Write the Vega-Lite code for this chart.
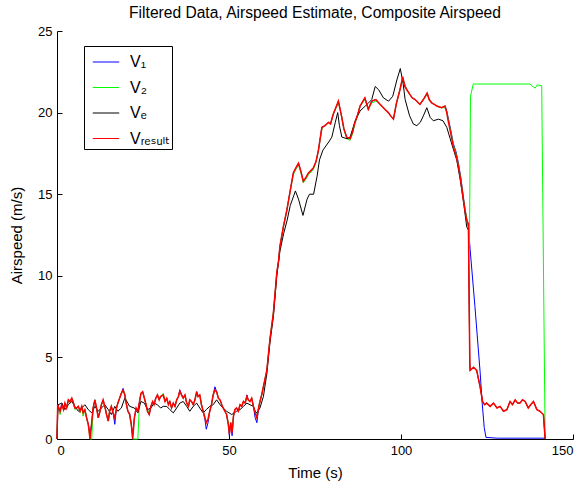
{
"$schema": "https://vega.github.io/schema/vega-lite/v6.json",
"width": 516, "height": 408,
"autosize": {"type": "none"},
"padding": {"left": 57, "top": 31, "right": 13, "bottom": 46},
"background": "white",
"title": {"text": "Filtered Data, Airspeed Estimate, Composite Airspeed", "fontSize": 15.6, "fontWeight": "normal", "font": "Liberation Sans", "anchor": "middle", "frame": "group", "offset": 3, "color": "black"},
"config": {
  "view": {"stroke": null},
  "font": "Liberation Sans",
  "axis": {"grid": false, "domainColor": "black", "tickColor": "black", "labelColor": "black", "titleColor": "black", "labelFontSize": 13, "titleFontSize": 15, "titleFontWeight": "normal", "tickSize": -5, "labelFont": "Liberation Sans", "titleFont": "Liberation Sans"}
},
"datasets": {
"v1": [{"t":0,"v":0},{"t":0.2,"v":2.1},{"t":0.9,"v":1.7},{"t":1.4,"v":2.2},{"t":1.9,"v":1.8},{"t":2.3,"v":2.2},{"t":2.8,"v":1.9},{"t":3.3,"v":2.4},{"t":3.8,"v":2.3},{"t":4.3,"v":2.5},{"t":4.8,"v":2.2},{"t":5.2,"v":1.9},{"t":5.7,"v":1.9},{"t":6.2,"v":2.0},{"t":6.7,"v":1.7},{"t":7.2,"v":2.0},{"t":7.6,"v":1.6},{"t":8.1,"v":1.8},{"t":8.6,"v":1.3},{"t":9.1,"v":0.9},{"t":9.6,"v":0.3},{"t":10.1,"v":1.0},{"t":10.5,"v":1.9},{"t":11.0,"v":2.4},{"t":11.5,"v":1.9},{"t":12.0,"v":1.3},{"t":12.5,"v":1.7},{"t":12.9,"v":2.1},{"t":13.4,"v":2.4},{"t":13.9,"v":2.0},{"t":14.4,"v":1.5},{"t":14.9,"v":1.1},{"t":15.3,"v":1.7},{"t":15.8,"v":2.0},{"t":16.3,"v":1.6},{"t":16.8,"v":0.9},{"t":17.3,"v":1.9},{"t":17.7,"v":2.2},{"t":18.2,"v":2.5},{"t":18.7,"v":2.8},{"t":19.2,"v":3.1},{"t":19.7,"v":2.7},{"t":20.1,"v":2.2},{"t":20.6,"v":1.7},{"t":21.1,"v":1.6},{"t":21.6,"v":0.9},{"t":22.0,"v":0.2},{"t":22.5,"v":1.3},{"t":23.0,"v":1.9},{"t":23.5,"v":1.7},{"t":24.0,"v":2.3},{"t":24.4,"v":2.8},{"t":24.9,"v":2.9},{"t":25.4,"v":2.5},{"t":25.9,"v":2.1},{"t":26.3,"v":1.7},{"t":26.8,"v":1.5},{"t":27.3,"v":2.0},{"t":27.8,"v":2.3},{"t":28.2,"v":2.1},{"t":28.7,"v":2.5},{"t":29.2,"v":2.7},{"t":29.7,"v":2.4},{"t":30.1,"v":2.6},{"t":30.9,"v":2.7},{"t":31.4,"v":2.3},{"t":31.9,"v":2.5},{"t":32.4,"v":2.1},{"t":32.8,"v":2.3},{"t":33.3,"v":1.9},{"t":33.8,"v":2.2},{"t":34.3,"v":2.0},{"t":34.8,"v":2.4},{"t":35.3,"v":2.6},{"t":35.7,"v":3.0},{"t":36.2,"v":2.7},{"t":36.7,"v":2.5},{"t":37.2,"v":2.7},{"t":37.7,"v":2.2},{"t":38.2,"v":2.0},{"t":38.6,"v":2.4},{"t":39.1,"v":2.3},{"t":39.6,"v":2.1},{"t":40.1,"v":2.4},{"t":40.6,"v":2.9},{"t":41.0,"v":2.6},{"t":41.5,"v":2.7},{"t":42.0,"v":2.1},{"t":42.5,"v":1.7},{"t":43.0,"v":1.2},{"t":43.4,"v":0.6},{"t":43.9,"v":1.0},{"t":44.4,"v":1.7},{"t":44.9,"v":2.1},{"t":45.4,"v":2.7},{"t":45.9,"v":3.2},{"t":46.4,"v":2.9},{"t":46.9,"v":2.5},{"t":47.4,"v":2.4},{"t":47.9,"v":2.1},{"t":48.3,"v":1.9},{"t":48.8,"v":1.7},{"t":49.3,"v":1.5},{"t":49.8,"v":0.9},{"t":50.1,"v":0.2},{"t":50.5,"v":1.0},{"t":50.9,"v":0.2},{"t":51.3,"v":1.4},{"t":51.7,"v":1.8},{"t":52.2,"v":1.9},{"t":52.7,"v":1.7},{"t":53.2,"v":2.1},{"t":53.7,"v":2.0},{"t":54.2,"v":2.3},{"t":54.7,"v":2.2},{"t":55.2,"v":2.7},{"t":55.6,"v":2.4},{"t":56.1,"v":2.3},{"t":56.6,"v":2.5},{"t":57.1,"v":2.0},{"t":57.6,"v":1.3},{"t":58.1,"v":1.0},{"t":58.6,"v":1.9},{"t":59.0,"v":2.3},{"t":59.5,"v":2.7},{"t":60.0,"v":3.2},{"t":61.0,"v":4.2},{"t":61.9,"v":6.1},{"t":62.9,"v":7.7},{"t":63.9,"v":10.2},{"t":64.4,"v":10.9},{"t":64.8,"v":11.8},{"t":65.3,"v":12.4},{"t":65.8,"v":13.0},{"t":66.8,"v":14.0},{"t":67.7,"v":15.1},{"t":68.7,"v":16.3},{"t":69.4,"v":16.6},{"t":70.2,"v":16.9},{"t":70.9,"v":16.4},{"t":71.6,"v":15.8},{"t":72.3,"v":16.0},{"t":73.1,"v":16.3},{"t":74.5,"v":16.6},{"t":75.3,"v":17.0},{"t":76.0,"v":17.7},{"t":77.0,"v":19.1},{"t":77.9,"v":19.2},{"t":78.9,"v":19.4},{"t":79.5,"v":19.3},{"t":80.3,"v":19.9},{"t":81.8,"v":20.7},{"t":82.7,"v":19.8},{"t":83.4,"v":19.0},{"t":84.2,"v":18.5},{"t":85.2,"v":18.4},{"t":85.9,"v":18.8},{"t":86.6,"v":19.4},{"t":87.3,"v":19.8},{"t":88.1,"v":20.4},{"t":89.5,"v":20.9},{"t":90.5,"v":20.2},{"t":91.5,"v":20.7},{"t":92.7,"v":20.8},{"t":93.5,"v":20.6},{"t":94.4,"v":20.4},{"t":95.3,"v":20.2},{"t":96.3,"v":20.0},{"t":97.0,"v":19.8},{"t":97.8,"v":19.6},{"t":98.7,"v":20.6},{"t":99.7,"v":21.4},{"t":100.5,"v":22.1},{"t":101.1,"v":21.7},{"t":101.7,"v":21.4},{"t":102.6,"v":21.1},{"t":103.3,"v":20.9},{"t":104.1,"v":20.8},{"t":105.5,"v":20.5},{"t":106.5,"v":20.8},{"t":107.6,"v":21.2},{"t":108.2,"v":20.8},{"t":108.9,"v":20.6},{"t":109.7,"v":20.5},{"t":110.4,"v":20.4},{"t":111.8,"v":20.3},{"t":112.8,"v":20.4},{"t":113.3,"v":20.1},{"t":113.8,"v":19.6},{"t":114.5,"v":18.9},{"t":115.2,"v":18.1},{"t":116.0,"v":17.6},{"t":116.7,"v":16.9},{"t":117.4,"v":16.0},{"t":118.1,"v":14.9},{"t":118.6,"v":14.1},{"t":119.1,"v":13.5},{"t":119.6,"v":13.0},{"t":120.1,"v":11.6},{"t":121.5,"v":8.1},{"t":123.0,"v":4.1},{"t":123.6,"v":2.2},{"t":124.2,"v":0.7},{"t":124.7,"v":0.1},{"t":128.0,"v":0.05},{"t":141.9,"v":0.05},{"t":142.0,"v":0}],
"v2": [{"t":0,"v":0},{"t":0.2,"v":2.0},{"t":0.9,"v":1.5},{"t":1.4,"v":2.1},{"t":1.9,"v":1.8},{"t":2.3,"v":2.1},{"t":2.8,"v":1.9},{"t":3.3,"v":2.4},{"t":3.8,"v":2.2},{"t":4.3,"v":2.5},{"t":4.8,"v":2.2},{"t":5.2,"v":1.8},{"t":5.7,"v":1.9},{"t":6.2,"v":2.0},{"t":6.7,"v":1.6},{"t":7.2,"v":2.0},{"t":7.6,"v":1.4},{"t":8.1,"v":1.8},{"t":8.6,"v":1.3},{"t":9.1,"v":0.8},{"t":9.6,"v":0},{"t":10.1,"v":0},{"t":10.5,"v":1.9},{"t":11.0,"v":2.4},{"t":11.5,"v":1.9},{"t":12.0,"v":1.3},{"t":12.5,"v":1.7},{"t":12.9,"v":2.1},{"t":13.4,"v":2.3},{"t":13.9,"v":2.0},{"t":14.4,"v":1.5},{"t":14.9,"v":1.2},{"t":15.3,"v":1.7},{"t":15.8,"v":2.0},{"t":16.3,"v":1.6},{"t":16.8,"v":1.3},{"t":17.3,"v":1.9},{"t":17.7,"v":2.2},{"t":18.2,"v":2.5},{"t":18.7,"v":2.8},{"t":19.2,"v":3.0},{"t":19.7,"v":2.8},{"t":20.1,"v":2.3},{"t":20.6,"v":1.7},{"t":21.1,"v":1.5},{"t":21.6,"v":0.8},{"t":22.0,"v":0},{"t":23.5,"v":0},{"t":24.0,"v":2.3},{"t":24.4,"v":2.8},{"t":24.9,"v":2.9},{"t":25.4,"v":2.5},{"t":25.9,"v":2.1},{"t":26.3,"v":1.8},{"t":26.8,"v":1.6},{"t":27.3,"v":2.0},{"t":27.8,"v":2.3},{"t":28.2,"v":2.1},{"t":28.7,"v":2.5},{"t":29.2,"v":2.7},{"t":29.7,"v":2.4},{"t":30.1,"v":2.6},{"t":30.9,"v":2.8},{"t":31.4,"v":2.3},{"t":31.9,"v":2.5},{"t":32.4,"v":2.1},{"t":32.8,"v":2.3},{"t":33.3,"v":1.9},{"t":33.8,"v":2.2},{"t":34.3,"v":2.0},{"t":34.8,"v":2.4},{"t":35.3,"v":2.6},{"t":35.7,"v":2.9},{"t":36.2,"v":2.7},{"t":36.7,"v":2.5},{"t":37.2,"v":2.7},{"t":37.7,"v":2.2},{"t":38.2,"v":2.0},{"t":38.6,"v":2.4},{"t":39.1,"v":2.3},{"t":39.6,"v":2.1},{"t":40.1,"v":2.4},{"t":40.6,"v":2.8},{"t":41.0,"v":2.6},{"t":41.5,"v":2.7},{"t":42.0,"v":2.1},{"t":42.5,"v":1.7},{"t":43.0,"v":1.3},{"t":43.4,"v":1.0},{"t":43.9,"v":1.2},{"t":44.4,"v":1.7},{"t":44.9,"v":2.1},{"t":45.4,"v":2.7},{"t":45.9,"v":3.0},{"t":46.4,"v":2.9},{"t":46.9,"v":2.5},{"t":47.4,"v":2.4},{"t":47.9,"v":2.1},{"t":48.3,"v":1.9},{"t":48.8,"v":1.7},{"t":49.3,"v":1.5},{"t":49.8,"v":1.0},{"t":50.1,"v":0.4},{"t":50.5,"v":1.0},{"t":50.9,"v":0.5},{"t":51.3,"v":1.4},{"t":51.7,"v":1.8},{"t":52.2,"v":1.9},{"t":52.7,"v":1.7},{"t":53.2,"v":2.1},{"t":53.7,"v":2.0},{"t":54.2,"v":2.3},{"t":54.7,"v":2.2},{"t":55.2,"v":2.6},{"t":55.6,"v":2.4},{"t":56.1,"v":2.3},{"t":56.6,"v":2.5},{"t":57.1,"v":2.0},{"t":57.6,"v":1.7},{"t":58.1,"v":1.4},{"t":58.6,"v":1.9},{"t":59.0,"v":2.3},{"t":59.5,"v":2.7},{"t":60.0,"v":3.2},{"t":61.0,"v":4.2},{"t":61.9,"v":6.1},{"t":62.9,"v":7.8},{"t":63.9,"v":10.2},{"t":64.4,"v":10.9},{"t":64.8,"v":11.8},{"t":65.3,"v":12.4},{"t":65.8,"v":13.0},{"t":66.8,"v":14.0},{"t":67.7,"v":15.1},{"t":68.7,"v":16.2},{"t":69.4,"v":16.5},{"t":70.2,"v":16.8},{"t":70.9,"v":16.3},{"t":71.6,"v":15.7},{"t":72.3,"v":15.9},{"t":73.1,"v":16.2},{"t":74.5,"v":16.5},{"t":75.3,"v":17.0},{"t":76.0,"v":17.7},{"t":77.0,"v":19.0},{"t":77.9,"v":19.2},{"t":78.9,"v":19.4},{"t":79.5,"v":19.3},{"t":80.3,"v":19.9},{"t":81.8,"v":20.6},{"t":82.7,"v":19.8},{"t":83.4,"v":19.0},{"t":84.2,"v":18.4},{"t":85.2,"v":18.3},{"t":85.9,"v":18.7},{"t":86.6,"v":19.3},{"t":87.3,"v":19.8},{"t":88.1,"v":20.4},{"t":89.5,"v":20.8},{"t":90.5,"v":20.2},{"t":91.5,"v":20.6},{"t":92.7,"v":20.7},{"t":93.5,"v":20.6},{"t":94.4,"v":20.4},{"t":95.3,"v":20.2},{"t":96.3,"v":20.0},{"t":97.0,"v":19.8},{"t":97.8,"v":19.6},{"t":98.7,"v":20.6},{"t":99.7,"v":21.4},{"t":100.5,"v":22.1},{"t":101.1,"v":21.7},{"t":101.7,"v":21.4},{"t":102.6,"v":21.1},{"t":103.3,"v":20.9},{"t":104.1,"v":20.8},{"t":105.5,"v":20.5},{"t":106.5,"v":20.8},{"t":107.6,"v":21.1},{"t":108.2,"v":20.8},{"t":108.9,"v":20.6},{"t":109.7,"v":20.5},{"t":110.4,"v":20.4},{"t":111.8,"v":20.3},{"t":112.8,"v":20.3},{"t":113.3,"v":20.0},{"t":113.8,"v":19.5},{"t":114.5,"v":18.8},{"t":115.2,"v":18.0},{"t":116.0,"v":17.5},{"t":116.7,"v":16.8},{"t":117.4,"v":15.9},{"t":118.1,"v":14.8},{"t":118.6,"v":14.1},{"t":119.1,"v":13.5},{"t":119.6,"v":13.1},{"t":119.9,"v":11.8},{"t":120.2,"v":21.0},{"t":121.0,"v":21.75},{"t":137.5,"v":21.75},{"t":138.3,"v":21.6},{"t":139.0,"v":21.5},{"t":139.6,"v":21.7},{"t":140.9,"v":21.65},{"t":141.9,"v":0}],
"ve": [{"t":0,"v":0},{"t":0.3,"v":2.1},{"t":1.4,"v":2.2},{"t":2.3,"v":1.8},{"t":3.3,"v":2.1},{"t":4.3,"v":2.3},{"t":5.2,"v":2.0},{"t":6.2,"v":1.7},{"t":7.2,"v":1.9},{"t":8.1,"v":2.1},{"t":9.1,"v":1.8},{"t":10.1,"v":1.6},{"t":11.0,"v":2.0},{"t":12.0,"v":1.7},{"t":12.9,"v":1.9},{"t":13.9,"v":2.1},{"t":14.9,"v":1.8},{"t":15.8,"v":1.5},{"t":16.8,"v":2.0},{"t":17.7,"v":1.7},{"t":18.7,"v":1.9},{"t":19.7,"v":2.5},{"t":20.6,"v":2.2},{"t":21.1,"v":2.0},{"t":22.5,"v":1.9},{"t":23.5,"v":1.6},{"t":24.4,"v":2.3},{"t":25.4,"v":2.2},{"t":26.3,"v":1.8},{"t":27.3,"v":1.9},{"t":28.2,"v":2.2},{"t":29.2,"v":2.1},{"t":30.1,"v":1.9},{"t":30.9,"v":2.0},{"t":31.9,"v":2.0},{"t":32.8,"v":1.8},{"t":33.8,"v":1.6},{"t":34.8,"v":1.9},{"t":35.7,"v":2.2},{"t":36.7,"v":2.3},{"t":37.7,"v":2.0},{"t":38.6,"v":1.7},{"t":39.6,"v":2.0},{"t":40.6,"v":2.2},{"t":41.5,"v":1.9},{"t":42.5,"v":1.6},{"t":43.4,"v":1.8},{"t":44.4,"v":2.0},{"t":45.4,"v":2.1},{"t":46.4,"v":2.4},{"t":47.4,"v":2.1},{"t":48.3,"v":1.9},{"t":49.3,"v":1.7},{"t":50.8,"v":1.5},{"t":52.2,"v":1.7},{"t":53.2,"v":1.8},{"t":54.2,"v":2.0},{"t":55.2,"v":2.2},{"t":56.1,"v":2.1},{"t":57.1,"v":2.0},{"t":57.6,"v":1.7},{"t":58.1,"v":1.6},{"t":59.0,"v":1.9},{"t":60.0,"v":2.6},{"t":61.0,"v":4.0},{"t":61.9,"v":5.9},{"t":62.9,"v":7.5},{"t":63.9,"v":10.0},{"t":64.8,"v":11.5},{"t":65.9,"v":12.6},{"t":66.9,"v":13.4},{"t":67.8,"v":14.3},{"t":68.8,"v":14.9},{"t":69.3,"v":15.2},{"t":70.2,"v":14.7},{"t":71.5,"v":13.7},{"t":72.7,"v":14.7},{"t":73.4,"v":15.0},{"t":74.6,"v":15.0},{"t":75.6,"v":16.1},{"t":76.3,"v":17.1},{"t":77.3,"v":17.7},{"t":79.0,"v":18.2},{"t":79.9,"v":18.5},{"t":80.9,"v":19.4},{"t":81.6,"v":20.0},{"t":82.1,"v":19.2},{"t":82.8,"v":18.5},{"t":84.3,"v":18.4},{"t":85.2,"v":18.5},{"t":86.7,"v":19.5},{"t":88.1,"v":20.1},{"t":89.6,"v":20.4},{"t":90.6,"v":20.6},{"t":91.5,"v":20.8},{"t":92.5,"v":21.6},{"t":93.5,"v":21.4},{"t":94.9,"v":20.9},{"t":96.4,"v":20.7},{"t":97.6,"v":21.0},{"t":98.8,"v":22.0},{"t":99.8,"v":22.7},{"t":100.6,"v":21.8},{"t":101.2,"v":20.8},{"t":102.5,"v":19.8},{"t":103.6,"v":19.3},{"t":104.6,"v":19.2},{"t":105.6,"v":19.4},{"t":106.5,"v":19.8},{"t":107.5,"v":20.3},{"t":108.5,"v":19.7},{"t":109.4,"v":19.5},{"t":110.9,"v":19.6},{"t":112.2,"v":19.5},{"t":113.3,"v":19.1},{"t":114.3,"v":18.4},{"t":115.3,"v":17.7},{"t":116.2,"v":17.1},{"t":117.2,"v":15.9},{"t":118.2,"v":14.5},{"t":119.1,"v":13.0},{"t":119.6,"v":12.8},{"t":120.0,"v":4.6},{"t":120.1,"v":4.2},{"t":121.1,"v":4.4},{"t":122.0,"v":4.2},{"t":123.0,"v":3.2},{"t":123.7,"v":2.3},{"t":124.3,"v":2.1},{"t":124.9,"v":2.2},{"t":125.9,"v":2.0},{"t":126.9,"v":2.2},{"t":127.9,"v":1.9},{"t":128.8,"v":2.0},{"t":129.8,"v":1.7},{"t":130.8,"v":1.8},{"t":131.7,"v":2.3},{"t":132.4,"v":2.1},{"t":133.2,"v":2.4},{"t":133.9,"v":2.2},{"t":134.6,"v":2.2},{"t":135.3,"v":2.4},{"t":136.1,"v":2.3},{"t":137.0,"v":1.9},{"t":137.7,"v":2.1},{"t":138.5,"v":2.3},{"t":139.5,"v":1.8},{"t":140.4,"v":1.7},{"t":141.4,"v":1.5},{"t":141.9,"v":0}],
"vr": [{"t":0,"v":0},{"t":0.2,"v":2.1},{"t":0.9,"v":1.7},{"t":1.4,"v":2.1},{"t":1.9,"v":1.8},{"t":2.3,"v":2.2},{"t":2.8,"v":1.9},{"t":3.3,"v":2.4},{"t":3.8,"v":2.3},{"t":4.3,"v":2.5},{"t":4.8,"v":2.2},{"t":5.2,"v":1.9},{"t":5.7,"v":1.9},{"t":6.2,"v":2.0},{"t":6.7,"v":1.7},{"t":7.2,"v":2.0},{"t":7.6,"v":1.6},{"t":8.1,"v":1.8},{"t":8.6,"v":1.3},{"t":9.1,"v":0.9},{"t":9.6,"v":0},{"t":10.1,"v":1.0},{"t":10.5,"v":1.9},{"t":11.0,"v":2.4},{"t":11.5,"v":1.9},{"t":12.0,"v":1.3},{"t":12.5,"v":1.7},{"t":12.9,"v":2.1},{"t":13.4,"v":2.4},{"t":13.9,"v":2.0},{"t":14.4,"v":1.5},{"t":14.9,"v":1.1},{"t":15.3,"v":1.7},{"t":15.8,"v":2.0},{"t":16.3,"v":1.6},{"t":16.8,"v":1.3},{"t":17.3,"v":1.9},{"t":17.7,"v":2.2},{"t":18.2,"v":2.5},{"t":18.7,"v":2.8},{"t":19.2,"v":3.0},{"t":19.7,"v":2.7},{"t":20.1,"v":2.2},{"t":20.6,"v":1.7},{"t":21.1,"v":1.5},{"t":21.6,"v":0.9},{"t":22.0,"v":0},{"t":22.5,"v":1.3},{"t":23.0,"v":1.9},{"t":23.5,"v":1.7},{"t":24.0,"v":2.3},{"t":24.4,"v":2.8},{"t":24.9,"v":2.9},{"t":25.4,"v":2.5},{"t":25.9,"v":2.1},{"t":26.3,"v":1.7},{"t":26.8,"v":1.5},{"t":27.3,"v":2.0},{"t":27.8,"v":2.3},{"t":28.2,"v":2.1},{"t":28.7,"v":2.5},{"t":29.2,"v":2.7},{"t":29.7,"v":2.4},{"t":30.1,"v":2.6},{"t":30.9,"v":2.7},{"t":31.4,"v":2.3},{"t":31.9,"v":2.5},{"t":32.4,"v":2.1},{"t":32.8,"v":2.3},{"t":33.3,"v":1.9},{"t":33.8,"v":2.2},{"t":34.3,"v":2.0},{"t":34.8,"v":2.4},{"t":35.3,"v":2.6},{"t":35.7,"v":2.95},{"t":36.2,"v":2.7},{"t":36.7,"v":2.5},{"t":37.2,"v":2.7},{"t":37.7,"v":2.2},{"t":38.2,"v":2.0},{"t":38.6,"v":2.4},{"t":39.1,"v":2.3},{"t":39.6,"v":2.1},{"t":40.1,"v":2.4},{"t":40.6,"v":2.9},{"t":41.0,"v":2.6},{"t":41.5,"v":2.7},{"t":42.0,"v":2.1},{"t":42.5,"v":1.7},{"t":43.0,"v":1.3},{"t":43.4,"v":1.0},{"t":43.9,"v":1.2},{"t":44.4,"v":1.7},{"t":44.9,"v":2.1},{"t":45.4,"v":2.7},{"t":45.9,"v":3.0},{"t":46.4,"v":2.9},{"t":46.9,"v":2.5},{"t":47.4,"v":2.4},{"t":47.9,"v":2.1},{"t":48.3,"v":1.9},{"t":48.8,"v":1.7},{"t":49.3,"v":1.5},{"t":49.8,"v":0.9},{"t":50.1,"v":0.3},{"t":50.5,"v":1.0},{"t":50.9,"v":0.4},{"t":51.3,"v":1.4},{"t":51.7,"v":1.8},{"t":52.2,"v":1.9},{"t":52.7,"v":1.7},{"t":53.2,"v":2.1},{"t":53.7,"v":2.0},{"t":54.2,"v":2.3},{"t":54.7,"v":2.2},{"t":55.2,"v":2.6},{"t":55.6,"v":2.4},{"t":56.1,"v":2.3},{"t":56.6,"v":2.5},{"t":57.1,"v":2.0},{"t":57.6,"v":1.6},{"t":58.1,"v":1.3},{"t":58.6,"v":1.9},{"t":59.0,"v":2.3},{"t":59.5,"v":2.7},{"t":60.0,"v":3.2},{"t":61.0,"v":4.2},{"t":61.9,"v":6.1},{"t":62.9,"v":7.7},{"t":63.9,"v":10.2},{"t":64.4,"v":10.9},{"t":64.8,"v":11.8},{"t":65.3,"v":12.4},{"t":65.8,"v":13.0},{"t":66.8,"v":14.0},{"t":67.7,"v":15.1},{"t":68.7,"v":16.3},{"t":69.4,"v":16.6},{"t":70.2,"v":16.9},{"t":70.9,"v":16.4},{"t":71.6,"v":15.8},{"t":72.3,"v":16.0},{"t":73.1,"v":16.3},{"t":74.5,"v":16.6},{"t":75.3,"v":17.0},{"t":76.0,"v":17.7},{"t":77.0,"v":19.1},{"t":77.9,"v":19.2},{"t":78.9,"v":19.4},{"t":79.5,"v":19.3},{"t":80.3,"v":19.9},{"t":81.8,"v":20.7},{"t":82.7,"v":19.8},{"t":83.4,"v":19.0},{"t":84.2,"v":18.5},{"t":85.2,"v":18.4},{"t":85.9,"v":18.8},{"t":86.6,"v":19.4},{"t":87.3,"v":19.8},{"t":88.1,"v":20.4},{"t":89.5,"v":20.9},{"t":90.5,"v":20.2},{"t":91.5,"v":20.7},{"t":92.7,"v":20.8},{"t":93.5,"v":20.6},{"t":94.4,"v":20.4},{"t":95.3,"v":20.2},{"t":96.3,"v":20.0},{"t":97.0,"v":19.8},{"t":97.8,"v":19.6},{"t":98.7,"v":20.6},{"t":99.7,"v":21.4},{"t":100.5,"v":22.2},{"t":101.1,"v":21.6},{"t":101.7,"v":21.4},{"t":102.6,"v":21.1},{"t":103.3,"v":20.9},{"t":104.1,"v":20.8},{"t":105.5,"v":20.5},{"t":106.5,"v":20.8},{"t":107.6,"v":21.2},{"t":108.2,"v":20.8},{"t":108.9,"v":20.6},{"t":109.7,"v":20.5},{"t":110.4,"v":20.4},{"t":111.8,"v":20.3},{"t":112.8,"v":20.4},{"t":113.3,"v":20.0},{"t":113.8,"v":19.4},{"t":114.5,"v":18.7},{"t":115.2,"v":17.9},{"t":116.0,"v":17.4},{"t":116.7,"v":16.7},{"t":117.4,"v":15.8},{"t":118.1,"v":14.7},{"t":118.6,"v":14.0},{"t":119.1,"v":13.4},{"t":119.6,"v":13.2},{"t":120.0,"v":4.6},{"t":120.1,"v":4.2},{"t":121.1,"v":4.4},{"t":122.0,"v":4.2},{"t":123.0,"v":3.2},{"t":123.7,"v":2.3},{"t":124.3,"v":2.1},{"t":124.9,"v":2.2},{"t":125.9,"v":2.0},{"t":126.9,"v":2.2},{"t":127.9,"v":1.9},{"t":128.8,"v":2.0},{"t":129.8,"v":1.7},{"t":130.8,"v":1.8},{"t":131.7,"v":2.3},{"t":132.4,"v":2.1},{"t":133.2,"v":2.4},{"t":133.9,"v":2.2},{"t":134.6,"v":2.2},{"t":135.3,"v":2.4},{"t":136.1,"v":2.3},{"t":137.0,"v":1.9},{"t":137.7,"v":2.1},{"t":138.5,"v":2.3},{"t":139.5,"v":1.8},{"t":140.4,"v":1.7},{"t":141.4,"v":1.5},{"t":141.9,"v":0}]
},
"encoding": {
  "x": {"field": "t", "type": "quantitative", "scale": {"domain": [0, 150], "nice": false}, "axis": {"title": "Time (s)", "values": [0, 50, 100, 150], "labelPadding": 10, "titlePadding": 8}},
  "y": {"field": "v", "type": "quantitative", "scale": {"domain": [0, 25], "nice": false}, "axis": {"title": "Airspeed (m/s)", "values": [0, 5, 10, 15, 20, 25], "labelPadding": 10, "titlePadding": 13}},
  "color": {"type": "nominal", "scale": {"domain": ["V₁", "V₂", "Vₑ", "Vᵣₑₛᵤₗₜ"], "range": ["#0000ff", "#00ff00", "#000000", "#ff0000"]},
    "legend": {"orient": "none", "legendX": 27, "legendY": 15, "title": null, "symbolType": "stroke", "symbolSize": 700, "symbolStrokeWidth": 1, "symbolOffset": 6, "labelFontSize": 16, "labelFont": "Liberation Sans, DejaVu Sans", "labelColor": "black", "strokeColor": "black", "fillColor": "white", "padding": 2, "rowPadding": 3.5, "labelOffset": 10}}
},
"layer": [
  {"data": {"name": "v1"}, "mark": {"type": "line", "strokeWidth": 1}, "encoding": {"color": {"datum": "V₁"}}},
  {"data": {"name": "v2"}, "mark": {"type": "line", "strokeWidth": 1}, "encoding": {"color": {"datum": "V₂"}}},
  {"data": {"name": "ve"}, "mark": {"type": "line", "strokeWidth": 1}, "encoding": {"color": {"datum": "Vₑ"}}},
  {"data": {"name": "vr"}, "mark": {"type": "line", "strokeWidth": 1.5}, "encoding": {"color": {"datum": "Vᵣₑₛᵤₗₜ"}}}
]
}
